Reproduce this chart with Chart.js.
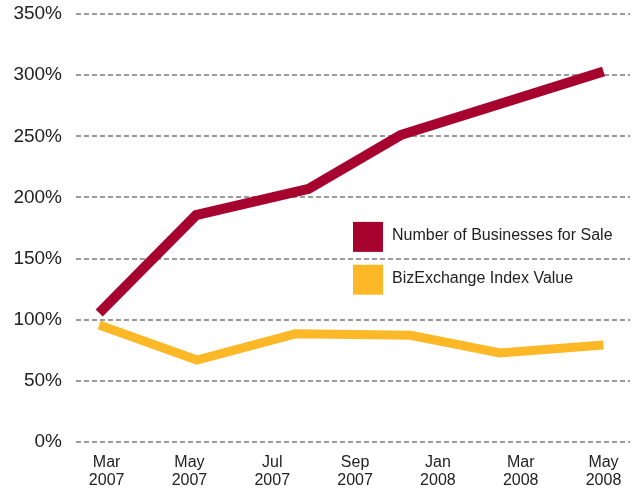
<!DOCTYPE html>
<html>
<head>
<meta charset="utf-8">
<script src="https://cdn.jsdelivr.net/npm/chart.js@4/dist/chart.umd.min.js"></script>
<style>
html,body{margin:0;padding:0;background:#fff;}
#wrap{width:640px;height:489px;position:relative;}
</style>
</head>
<body>
<div id="wrap"><canvas id="c"></canvas></div>
<script>
// Tick labels (evenly spaced category ticks on the x axis)
const xLabelMonths = ['Mar','May','Jul','Sep','Jan','Mar','May'];
const xLabelYears  = ['2007','2007','2007','2007','2008','2008','2008'];
const yTickValues  = [0,50,100,150,200,250,300,350];

// Series: positions along the tick index axis, and values in percent
const seriesNames = ['Number of Businesses for Sale','BizExchange Index Value'];
const businessesX   = [-0.09, 1.08, 2.44, 3.55, 6.0];
const businessesPct = [105.5, 185.5, 207, 251, 303];
const indexX   = [-0.09, 1.09, 2.28, 3.67, 4.75, 6.0];
const indexPct = [95.7, 67, 88.5, 87.2, 72.8, 79.3];

const RED = '#A6032F';
const YEL = '#FCB827';

const toPts = (xs, ys) => xs.map((x,i)=>({x:x, y:ys[i]}));

const legendPlugin = {
  id:'inlineLegend',
  afterDraw(chart){
    const ctx = chart.ctx;
    const ys = chart.scales.y;
    const left = chart.chartArea.left + 277;
    const items = [
      {color:RED, label:seriesNames[0], top: ys.getPixelForValue(180) },
      {color:YEL, label:seriesNames[1], top: ys.getPixelForValue(145) }
    ];
    ctx.save();
    ctx.font = '16px "Liberation Sans", Arial, sans-serif';
    ctx.textBaseline = 'middle';
    ctx.textAlign = 'left';
    items.forEach(it=>{
      ctx.fillStyle = it.color;
      ctx.fillRect(left, it.top, 30, 30);
      ctx.fillStyle = '#222';
      ctx.fillText(it.label, left + 39, it.top + 14);
    });
    ctx.restore();
  }
};

new Chart(document.getElementById('c'), {
  type:'line',
  data:{
    datasets:[
      {label:seriesNames[0], data:toPts(businessesX,businessesPct), borderColor:RED, backgroundColor:RED,
       borderWidth:10, pointRadius:0, pointHoverRadius:0, pointHitRadius:0, tension:0, borderJoinStyle:'miter', borderCapStyle:'butt', fill:false},
      {label:seriesNames[1], data:toPts(indexX,indexPct), borderColor:YEL, backgroundColor:YEL,
       borderWidth:9, pointRadius:0, pointHoverRadius:0, pointHitRadius:0, tension:0, borderJoinStyle:'miter', borderCapStyle:'butt', fill:false}
    ]
  },
  options:{
    responsive:true,
    maintainAspectRatio:false,
    animation:false,
    layout:{autoPadding:false, padding:{left:13,right:10,top:14,bottom:2}},
    plugins:{legend:{display:false}, tooltip:{enabled:false}},
    scales:{
      x:{
        type:'linear',
        min:-0.37, max:6.32,
        afterBuildTicks(axis){ axis.ticks = xLabelMonths.map((_,i)=>({value:i})); },
        afterFit(axis){ axis.height = 45; axis.paddingLeft = 0; axis.paddingRight = 0; },
        ticks:{
          autoSkip:false, maxRotation:0, minRotation:0, padding:12,
          color:'#222',
          font:{family:'"Liberation Sans", Arial, sans-serif', size:16, lineHeight:1.1},
          callback:(v)=>[xLabelMonths[v], xLabelYears[v]]
        },
        grid:{display:false, drawTicks:false},
        border:{display:false}
      },
      y:{
        min:0, max:350,
        afterBuildTicks(axis){ axis.ticks = yTickValues.map(v=>({value:v})); },
        afterFit(axis){ axis.width = 63; axis.paddingTop = 0; axis.paddingBottom = 0; },
        ticks:{
          padding:14, color:'#222',
          font:{family:'"Liberation Sans", Arial, sans-serif', size:19},
          callback:(v)=>v+'%'
        },
        grid:{color:'#9a9a9a', lineWidth:2, drawTicks:false, tickBorderDash:[5,3]},
        border:{display:false, dash:[5,3]}
      }
    }
  },
  plugins:[legendPlugin]
});
</script>
</body>
</html>
